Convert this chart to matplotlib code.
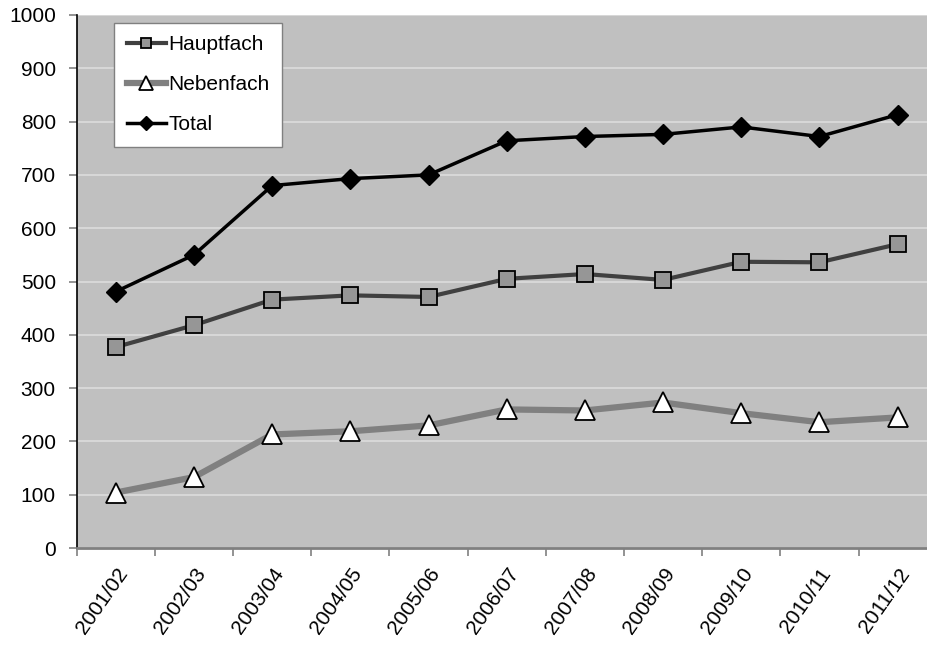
import matplotlib
matplotlib.use("Agg")
import matplotlib.pyplot as plt
import numpy as np

categories = ["2001/02", "2002/03", "2003/04", "2004/05", "2005/06", "2006/07",
              "2007/08", "2008/09", "2009/10", "2010/11", "2011/12"]
hauptfach = [377, 418, 466, 474, 471, 505, 514, 503, 537, 536, 570]
nebenfach = [104, 133, 213, 219, 230, 260, 258, 273, 253, 236, 245]
total = [481, 550, 680, 693, 700, 764, 772, 776, 790, 772, 813]
yticks = [0, 100, 200, 300, 400, 500, 600, 700, 800, 900, 1000]

plt.rcParams['font.family'] = ['Liberation Sans', 'DejaVu Sans']

W, H = 927, 647
fig = plt.figure(figsize=(W / 100, H / 100), dpi=100)
left, right, top, bottom = 76.7, 936.7, 15, 548
ax = fig.add_axes([left / W, (H - bottom) / H, (right - left) / W, (bottom - top) / H])
ax.set_facecolor('#c0c0c0')

x = np.arange(len(categories))
ax.plot(x, hauptfach, color='#404040', lw=3, marker='s', ms=11,
        mfc='#969696', mec='black', mew=1.3, label='Hauptfach', zorder=3)
ax.plot(x, nebenfach, color='#808080', lw=4.5, marker='^', ms=14,
        mfc='white', mec='black', mew=1.3, label='Nebenfach', zorder=3)
ax.plot(x, total, color='black', lw=2.5, marker='D', ms=10,
        mfc='black', mec='black', label='Total', zorder=4)

ax.set_xlim(-0.5, len(categories) - 0.5)
ax.set_ylim(0, 1000)
ax.set_yticks(yticks)
ax.set_yticklabels([str(v) for v in yticks], fontsize=15)
ax.yaxis.grid(True, color='#dcdcdc', lw=1.2)
ax.set_axisbelow(True)

ax.set_xticks(np.arange(len(categories) + 1) - 0.5)
ax.set_xticklabels([])
ax.set_xticks(x, minor=True)
ax.set_xticklabels(categories, minor=True, rotation=55, ha='right',
                   rotation_mode='anchor', fontsize=15)
ax.tick_params(axis='x', which='major', direction='out', length=6, color='#808080', width=1.2)
ax.tick_params(axis='x', which='minor', length=0, pad=12)
ax.tick_params(axis='y', direction='out', length=6, color='#808080', width=1.2, pad=9)

for s in ['top', 'right']:
    ax.spines[s].set_visible(False)
ax.spines['left'].set_color('black')
ax.spines['left'].set_linewidth(1.2)
ax.spines['bottom'].set_color('#808080')
ax.spines['bottom'].set_linewidth(2)

leg = ax.legend(loc='upper left', bbox_to_anchor=(114 / W, 1 - 23 / H),
                bbox_transform=fig.transFigure, fontsize=15, frameon=True,
                fancybox=False, edgecolor='#808080', framealpha=1,
                handlelength=1.9, handletextpad=0.1, labelspacing=1.0,
                borderpad=0.6, borderaxespad=0, markerscale=0.7)
leg.get_frame().set_linewidth(1)

fig.savefig('out.png', dpi=100)
